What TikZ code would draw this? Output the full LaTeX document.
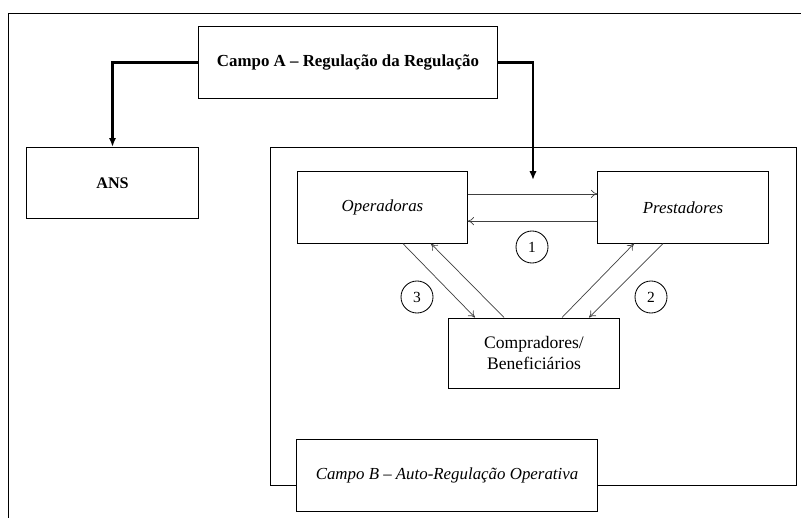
\documentclass[tikz,border=0pt]{standalone}
\usepackage{fontspec}
\setmainfont{Liberation Serif}
\usepackage{tikz}
\usetikzlibrary{arrows.meta}

\begin{document}
\begin{tikzpicture}[x=0.025cm,y=-0.025cm,font=\fontsize{12}{14}\selectfont]
\tikzstyle{campo} = [draw,line width=0.7pt,fill=white,minimum width=7.45cm,minimum height=1.78cm];
\tikzstyle{ator} = [draw,line width=0.7pt,fill=white,minimum width=4.25cm,minimum height=1.78cm,align=center];
\tikzstyle{num} = [circle,draw,line width=0.6pt,minimum size=0.8cm,inner sep=0pt,font=\fontsize{11}{13}\selectfont];
\tikzstyle{reg} = [line width=1.5pt,-{Latex[length=2.2mm,width=1.8mm]}];
\tikzstyle{rel} = [line width=0.5pt,black!75,-{To[length=1.6mm,width=2mm]}];
\useasboundingbox (0,0) rectangle (801,518);
% moldura externa e campo B
\draw [line width=0.7pt] (8,518) -- (8,13) -- (801,13);
\draw [line width=0.7pt] (270,147) rectangle (796,485);
\node [campo,font=\fontsize{12}{14}\selectfont\bfseries] (ca) at (348,62.5) {Campo A -- Regulação da Regulação};
\node [ator,minimum width=4.275cm,font=\fontsize{11.5}{14}\selectfont\bfseries] (ans) at (112.5,183) {ANS};
\node [ator,minimum width=4.225cm,font=\fontsize{12}{14}\selectfont\itshape] (op) at (382.5,207.5) {Operadoras};
\node [ator,font=\fontsize{12}{14}\selectfont\itshape] (pr) at (683,207.5) {Prestadores};
\node [ator,minimum height=1.75cm,font=\fontsize{12.5}{15}\selectfont] (cb) at (534,353) {Compradores/\\Beneficiários};
\node [campo,minimum width=7.5cm,minimum height=1.8cm,font=\fontsize{12}{14}\selectfont\itshape] (cpb) at (447,475) {Campo B -- Auto-Regulação Operativa};
\node [num] (n1) at (532,247) {1};
\node [num] (n2) at (651,297) {2};
\node [num] (n3) at (417,297) {3};
\coordinate (b) at (533,180);

\draw [reg] (ca.west) -| (ans.north);
\draw [reg] (ca.east) -| (b);
\draw [rel] ([yshift=3.4mm]op.east) -- ([yshift=3.4mm]pr.west);
\draw [rel] ([yshift=-3.4mm]pr.west) -- ([yshift=-3.4mm]op.east);
\draw [rel] ([xshift=5.1mm]op.south) -- ([xshift=-14.75mm]cb.north);
\draw [rel] ([xshift=-7.5mm]cb.north) -- ([xshift=12.1mm]op.south);
\draw [rel] ([xshift=7mm]cb.north) -- ([xshift=-12.25mm]pr.south);
\draw [rel] ([xshift=-5mm]pr.south) -- ([xshift=13.75mm]cb.north);
\end{tikzpicture}
\end{document}
